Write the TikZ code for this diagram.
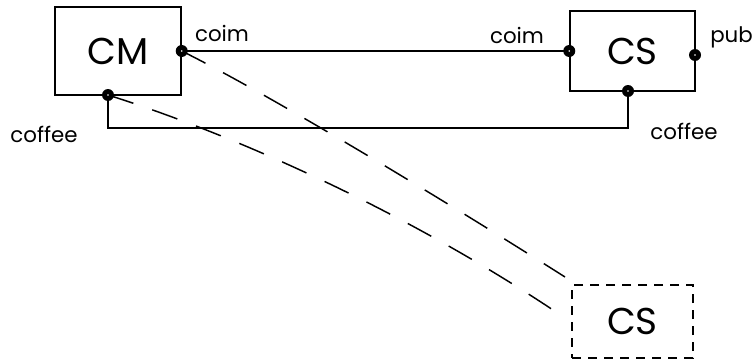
\documentclass[tikz,border=0pt]{standalone}
\usepackage{fontspec}
\setmainfont{Poppins}
\begin{document}
\begin{tikzpicture}[x=0.75pt,y=-0.75pt,
  box/.style={draw,line width=1.1pt,inner sep=0pt,font=\fontsize{28}{30}\selectfont},
  dbox/.style={box,dash pattern=on 7pt off 5pt},
  lbl/.style={font=\fontsize{16}{18}\selectfont,inner sep=0pt},
  wire/.style={line width=1.1pt},
  dwire/.style={line width=1.1pt,dash pattern=on 20pt off 15pt},
  port/.style={fill=black}]
\useasboundingbox (0,0) rectangle (754,364);
\node[box,minimum width=94.5pt,minimum height=66pt] (CM) at (118,51) {CM};
\node[box,minimum width=93.75pt,minimum height=60pt] (CS) at (632.5,51) {CS};
\node[dbox,minimum width=90.75pt,minimum height=54.75pt] (CS2) at (632.5,321.5) {CS};
\coordinate (cmr) at (CM.east);
\coordinate (cmb) at (108,95);
\coordinate (csl) at (CS.west);
\coordinate (csr) at (695,55);
\coordinate (csb) at (628,91);
\coordinate (d1) at (565,277);
\coordinate (d2) at (565,318);
\draw[wire] (cmr) -- (csl);
\draw[wire] (cmb) -- ++(0,33) -| (csb);
\draw[dwire] (cmr) .. controls (260,90) and (420,185) .. (d1);
\draw[dwire] (cmb) .. controls (250,140) and (420,220) .. (d2);
\foreach \p in {cmr,cmb,csl,csr,csb} {\fill[port] (\p) circle (4.5pt); \fill[white] (\p) circle (0.7pt);}
\node[lbl] (l1) at (222,33) {coim};
\node[lbl] (l2) at (517,35) {coim};
\node[lbl,anchor=west] (l3) at (710,37) {pub};
\node[lbl] (l4) at (44,134) {coffee};
\node[lbl] (l5) at (684,131) {coffee};
\end{tikzpicture}
\end{document}
